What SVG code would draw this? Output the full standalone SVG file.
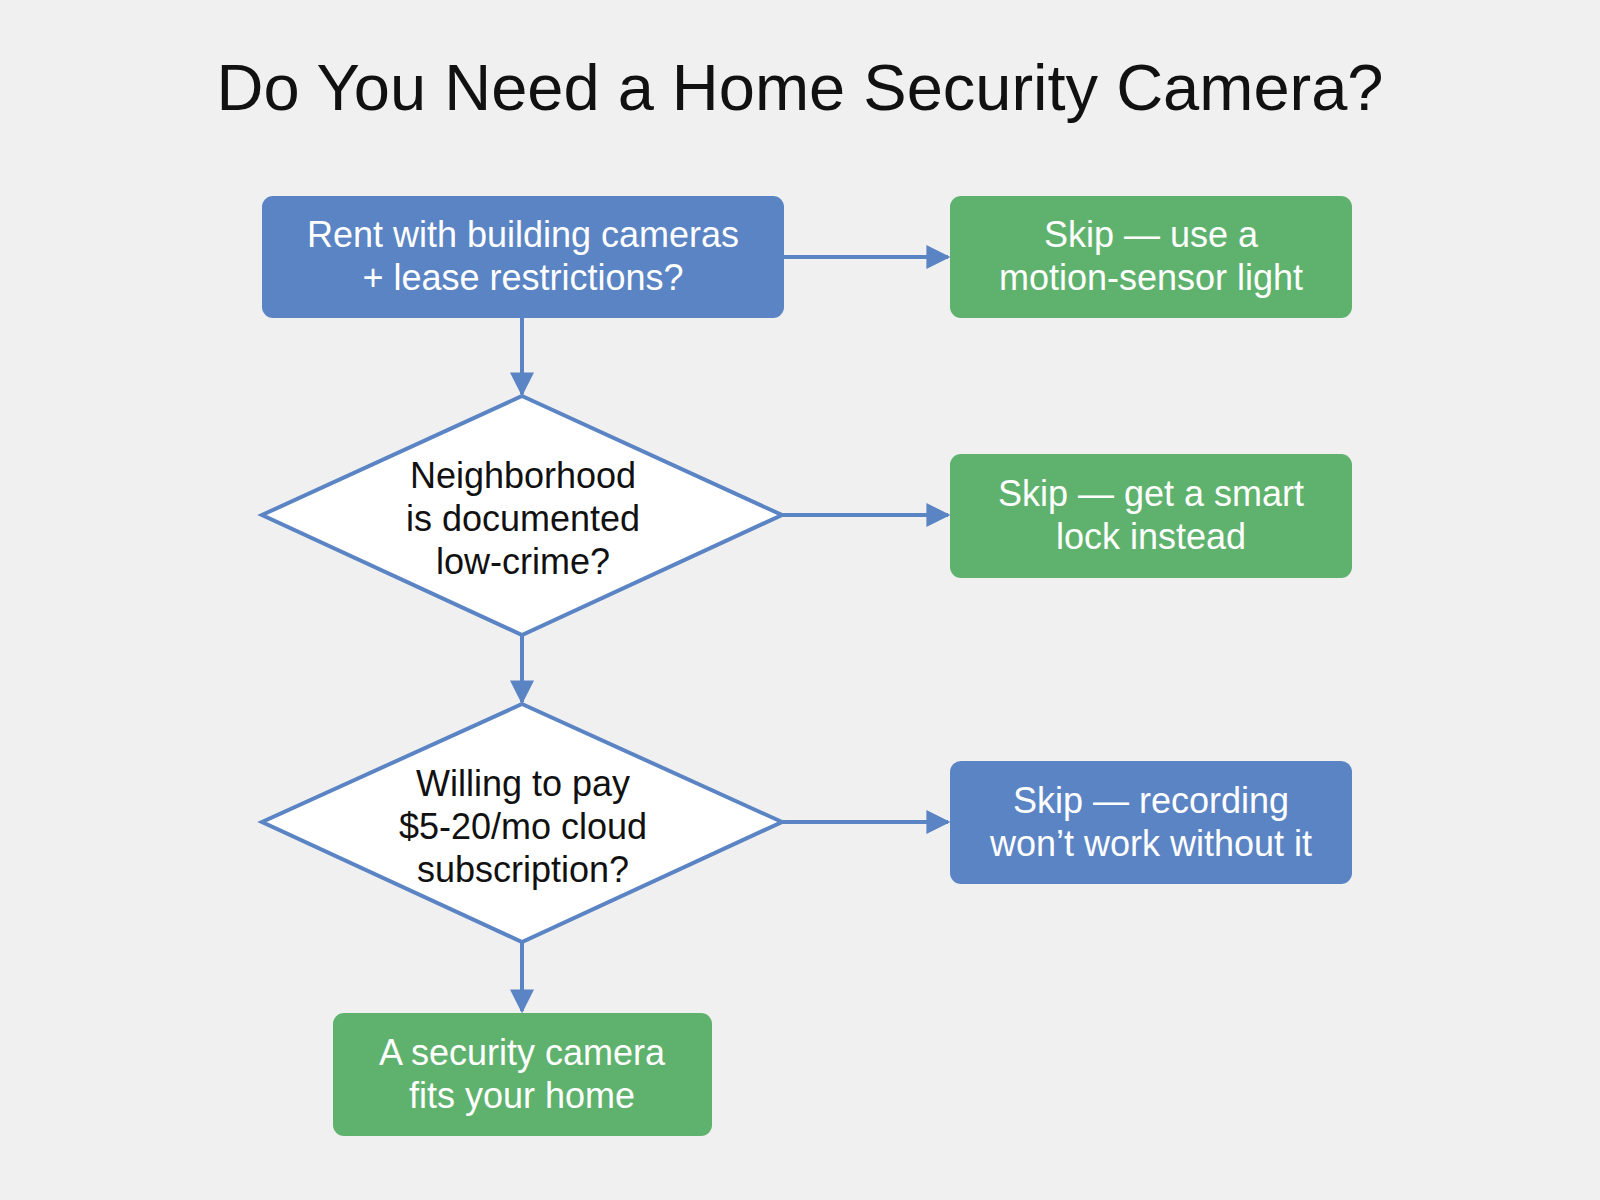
<svg xmlns="http://www.w3.org/2000/svg" width="1600" height="1200" viewBox="0 0 1600 1200">
<defs>
<marker id="ah" viewBox="0 0 10 10" refX="9" refY="5" markerWidth="6" markerHeight="6" markerUnits="strokeWidth" orient="auto"><path d="M0,0 L10,5 L0,10 z" fill="#5b84c4"/></marker>
<style>
.b{fill:#5b84c4}.g{fill:#5fb26e}
.d{fill:#fff;stroke:#5b84c4;stroke-width:4}
.t{font-family:"Liberation Sans",Arial,sans-serif;font-size:36px;text-anchor:middle;fill:#fff}
.k{fill:#111}
.c{stroke:#5b84c4;stroke-width:4;fill:none;marker-end:url(#ah)}
</style>
</defs>
<rect width="1600" height="1200" fill="#f0f0f0"/>
<text x="800" y="110" font-family="Liberation Sans,Arial,sans-serif" font-size="65" text-anchor="middle" fill="#111">Do You Need a Home Security Camera?</text>
<g id="connectors">
<path class="c" d="M522 318 V394"/>
<path class="c" d="M522 635 V702"/>
<path class="c" d="M522 942 V1011"/>
<path class="c" d="M784 257 H948"/>
<path class="c" d="M782 515 H948"/>
<path class="c" d="M782 822 H948"/>
</g>
<g id="q1"><rect class="b" x="262" y="196" width="522" height="122" rx="11"/><text class="t" x="523" y="247">Rent with building cameras</text><text class="t" x="523" y="290">+ lease restrictions?</text></g>
<g id="r1"><rect class="g" x="950" y="196" width="402" height="122" rx="11"/><text class="t" x="1151" y="247">Skip — use a</text><text class="t" x="1151" y="290">motion-sensor light</text></g>
<g id="q2"><polygon class="d" points="522,396 782,515 522,635 262,515"/><text class="t k" x="523" y="488">Neighborhood</text><text class="t k" x="523" y="531">is documented</text><text class="t k" x="523" y="574">low-crime?</text></g>
<g id="r2"><rect class="g" x="950" y="454" width="402" height="124" rx="11"/><text class="t" x="1151" y="506">Skip — get a smart</text><text class="t" x="1151" y="549">lock instead</text></g>
<g id="q3"><polygon class="d" points="522,704 782,822 522,942 262,822"/><text class="t k" x="523" y="796">Willing to pay</text><text class="t k" x="523" y="839">$5-20/mo cloud</text><text class="t k" x="523" y="882">subscription?</text></g>
<g id="r3"><rect class="b" x="950" y="761" width="402" height="123" rx="11"/><text class="t" x="1151" y="813">Skip — recording</text><text class="t" x="1151" y="856">won’t work without it</text></g>
<g id="end"><rect class="g" x="333" y="1013" width="379" height="123" rx="11"/><text class="t" x="522" y="1065">A security camera</text><text class="t" x="522" y="1108">fits your home</text></g>
</svg>
